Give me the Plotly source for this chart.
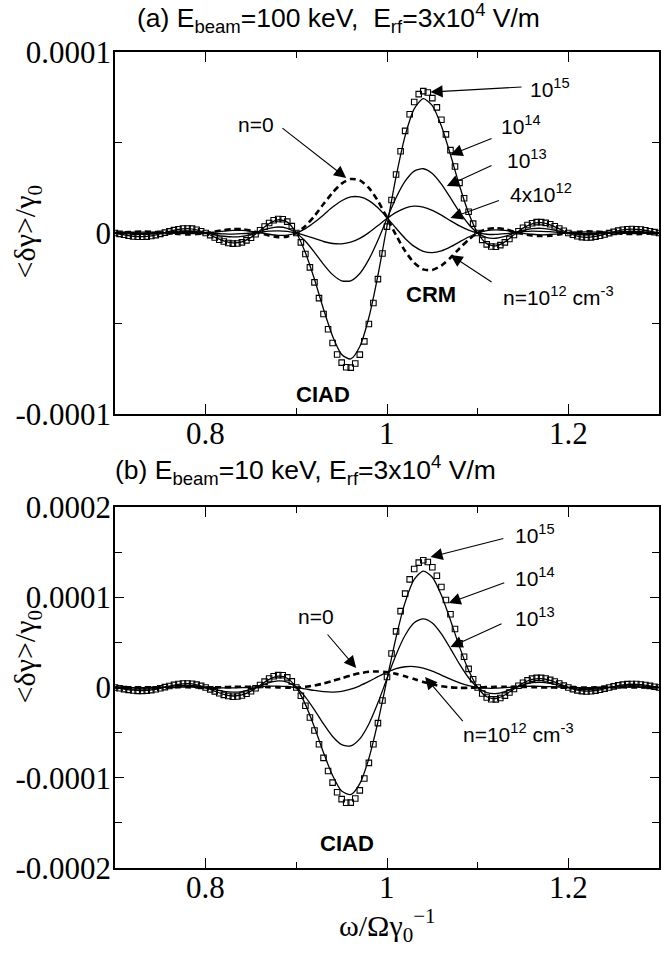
import numpy as np
import plotly.graph_objects as go

UNIT = 1e-5  # values below are read in units of 1e-5

# sampling grids (omega / Omega gamma0^-1)
x_line = np.round(np.linspace(0.70, 1.30, 61), 3)
x_sq = np.round(np.linspace(0.70, 1.30, 121), 4)
x_tick_vals = [0.8, 1.0, 1.2]
x_tick_text = ["0.8", "1", "1.2"]

# ---------------- panel (a): E_beam = 100 keV ----------------
a_n0 = [0, .03, .06, .08, .07, .03, -.01, -.06, -.08, -.06,
        0, .08, .16, .21, .21, .13, .00, -.14, -.23, -.20,
        0, .39, .94, 1.60, 2.23, 2.73, 2.98, 2.91, 2.49, 1.77,
        .85, -.12, -1.00, -1.65, -2.01, -2.04, -1.80, -1.37, -.85, -.37,
        0, .21, .27, .21, .08, -.05, -.14, -.17, -.15, -.08,
        0, .06, .09, .08, .04, -.01, -.04, -.06, -.06, -.03,
        0]
a_1e12 = [0, .02, .04, .05, .05, .03, .00, -.03, -.04, -.03,
          0, .05, .10, .14, .14, .09, .02, -.07, -.13, -.12,
          0, .24, .59, 1.00, 1.43, 1.78, 1.99, 1.99, 1.79, 1.39,
          .85, .26, -.30, -.74, -1.01, -1.09, -.99, -.77, -.49, -.22,
          0, .13, .17, .14, .07, -.02, -.07, -.10, -.08, -.05,
          0, .04, .06, .05, .03, .00, -.02, -.04, -.03, -.02,
          0]
a_4e12 = [0, -.01, -.02, -.02, -.01, .01, .02, .04, .04, .03,
          0, -.03, -.05, -.06, -.04, .00, .05, .10, .12, .09,
          0, -.14, -.30, -.47, -.58, -.60, -.51, -.30, .02, .41,
          .80, 1.14, 1.38, 1.48, 1.43, 1.25, .99, .68, .39, .16,
          0, -.07, -.08, -.04, .02, .07, .10, .09, .07, .03,
          0, -.02, -.03, -.02, .00, .02, .03, .04, .03, .01,
          0]
a_1e13 = [0, -.04, -.07, -.08, -.06, -.01, .05, .10, .11, .08,
          0, -.10, -.18, -.22, -.19, -.07, .09, .25, .33, .26,
          0, -.46, -1.07, -1.73, -2.30, -2.64, -2.64, -2.24, -1.46, -.40,
          .80, 1.95, 2.86, 3.42, 3.55, 3.29, 2.70, 1.94, 1.16, .48,
          0, -.25, -.29, -.19, -.01, .15, .24, .26, .20, .10,
          0, -.07, -.10, -.08, -.02, .04, .08, .10, .08, .04,
          0]
a_1e14 = [0, -.10, -.18, -.20, -.16, -.05, .09, .20, .24, .17,
          0, -.23, -.44, -.55, -.49, -.24, .14, .52, .73, .60,
          0, -1.09, -2.56, -4.21, -5.70, -6.71, -6.96, -6.27, -4.67, -2.34,
          .40, 3.11, 5.37, 6.86, 7.42, 7.04, 5.91, 4.32, 2.61, 1.10,
          0, -.59, -.71, -.49, -.10, .27, .51, .57, .45, .23,
          0, -.17, -.24, -.19, -.08, .06, .17, .21, .18, .10,
          0]
a_1e15 = [0, -.05, -.10, -.15, -.19, -.21, -.21, -.20, -.17, -.12,
          -.05, .02, .09, .16, .21, .25, .25, .24, .18, .10,
          0, -.12, -.25, -.37, -.47, -.55, -.59, -.58, -.52, -.41,
          -.26, -.07, .15, .36, .55, .70, .77, .76, .63, .38,
          0, -.52, -1.16, -1.90, -2.73, -3.60, -4.48, -5.32, -6.08, -6.71,
          -7.16, -7.42, -7.44, -7.21, -6.72, -5.99, -5.03, -3.87, -2.55, -1.13,
          .35, 1.82, 3.23, 4.52, 5.64, 6.56, 7.24, 7.67, 7.84, 7.76,
          7.45, 6.94, 6.26, 5.45, 4.58, 3.67, 2.77, 1.92, 1.17, .52,
          0, -.38, -.63, -.75, -.76, -.67, -.52, -.33, -.11, .10,
          .29, .44, .54, .60, .60, .56, .48, .37, .25, .12,
          0, -.10, -.18, -.23, -.25, -.24, -.20, -.15, -.08, -.01,
          .06, .13, .18, .21, .22, .21, .19, .15, .10, .05,
          0]

# ---------------- panel (b): E_beam = 10 keV ----------------
b_n0 = [0, .01, .02, .02, .03, .03, .03, .03, .02, .01,
        0, .02, .04, .07, .09, .09, .07, .04, .01, -.02,
        0, .08, .22, .44, .72, 1.03, 1.33, 1.58, 1.74, 1.78,
        1.70, 1.51, 1.24, .93, .62, .35, .14, .02, -.04, -.04,
        0, .04, .08, .09, .09, .06, .04, .01, .00, -.01,
        0, -.01, .00, .01, .02, .02, .02, .01, .00, .00,
        0]
b_1e12 = [0, -.01, -.02, -.02, .00, .02, .04, .05, .05, .03,
          0, -.03, -.05, -.05, -.02, .04, .10, .15, .16, .11,
          0, -.16, -.33, -.46, -.51, -.43, -.19, .19, .67, 1.20,
          1.70, 2.09, 2.30, 2.32, 2.14, 1.81, 1.38, .92, .51, .20,
          0, -.08, -.08, -.02, .06, .12, .14, .13, .09, .04,
          0, -.03, -.03, -.01, .01, .04, .05, .05, .04, .02,
          0]
b_1e13 = [0, -.10, -.17, -.19, -.15, -.04, .10, .21, .24, .17,
          0, -.22, -.43, -.52, -.45, -.21, .17, .53, .73, .59,
          0, -1.06, -2.48, -4.04, -5.43, -6.33, -6.47, -5.69, -4.04, -1.70,
          1.00, 3.63, 5.79, 7.17, 7.61, 7.14, 5.94, 4.31, 2.59, 1.08,
          0, -.57, -.68, -.46, -.07, .30, .53, .57, .45, .23,
          0, -.17, -.23, -.18, -.06, .07, .17, .21, .18, .10,
          0]
b_1e14 = [0, -.17, -.30, -.34, -.27, -.08, .15, .35, .42, .30,
          0, -.40, -.76, -.94, -.83, -.40, .25, .90, 1.26, 1.03,
          0, -1.87, -4.40, -7.22, -9.76, -11.48, -11.87, -10.65, -7.86, -3.82,
          .90, 5.56, 9.43, 11.97, 12.90, 12.21, 10.22, 7.46, 4.50, 1.90,
          0, -1.02, -1.22, -.83, -.17, .48, .89, .98, .78, .40,
          0, -.29, -.40, -.33, -.13, .11, .29, .36, .31, .17,
          0]
b_1e15 = [0, -.09, -.18, -.26, -.33, -.37, -.37, -.35, -.29, -.20,
          -.08, .04, .17, .29, .38, .44, .45, .41, .32, .18,
          0, -.21, -.43, -.64, -.82, -.95, -1.02, -1.00, -.89, -.70,
          -.42, -.09, .28, .65, .99, 1.24, 1.37, 1.35, 1.12, .68,
          0, -.91, -2.03, -3.33, -4.77, -6.28, -7.80, -9.25, -10.54, -11.61,
          -12.37, -12.77, -12.76, -12.30, -11.40, -10.08, -8.35, -6.29, -3.95, -1.44,
          1.17, 3.76, 6.22, 8.46, 10.40, 11.98, 13.13, 13.84, 14.10, 13.91,
          13.32, 12.38, 11.14, 9.69, 8.12, 6.49, 4.89, 3.40, 2.06, .91,
          0, -.67, -1.10, -1.31, -1.32, -1.17, -.90, -.55, -.17, .20,
          .53, .79, .98, 1.07, 1.07, .99, .85, .66, .44, .21,
          0, -.18, -.32, -.40, -.44, -.42, -.35, -.25, -.13, .00,
          .12, .23, .32, .37, .39, .38, .34, .27, .18, .09,
          0]

for arr in (a_n0, a_1e12, a_4e12, a_1e13, a_1e14, b_n0, b_1e12, b_1e13, b_1e14):
    assert len(arr) == 61
for arr in (a_1e15, b_1e15):
    assert len(arr) == 121

fig = go.Figure()


def add_line(y, xa, ya, dash=None, width=1.3):
    fig.add_trace(go.Scatter(
        x=x_line, y=np.array(y) * UNIT, mode="lines", xaxis=xa, yaxis=ya,
        line=dict(color="black", width=width, dash=dash, shape="spline", smoothing=0.7),
        hoverinfo="skip", showlegend=False))


def add_squares(y, xa, ya):
    fig.add_trace(go.Scatter(
        x=x_sq, y=np.array(y) * UNIT, mode="markers", xaxis=xa, yaxis=ya,
        marker=dict(symbol="square-open", size=5.5, color="black", line=dict(width=1.1)),
        hoverinfo="skip", showlegend=False))


for s in (a_1e12, a_4e12, a_1e13, a_1e14):
    add_line(s, "x", "y")
add_line(a_n0, "x", "y", dash="6px,4px", width=2.6)
add_squares(a_1e15, "x", "y")

for s in (b_1e12, b_1e13, b_1e14):
    add_line(s, "x2", "y2")
add_line(b_n0, "x2", "y2", dash="6px,4px", width=2.6)
add_squares(b_1e15, "x2", "y2")

SERIF = "Liberation Serif"
SANS = "Liberation Sans"

xcommon = dict(range=[0.7, 1.3], showline=True, linecolor="black", linewidth=1.6,
               mirror="ticks", ticks="inside", ticklen=10, tickwidth=1.2, tickcolor="black",
               tickvals=x_tick_vals, showticklabels=False,
               minor=dict(tickvals=[0.9, 1.1], ticks="inside", ticklen=6, tickwidth=1.2,
                          tickcolor="black"),
               showgrid=False, zeroline=False)
ycommon = dict(showline=True, linecolor="black", linewidth=1.6, mirror="ticks",
               ticks="inside", ticklen=9, tickwidth=1.2, tickcolor="black",
               tickfont=dict(family=SERIF, size=31, color="black"),
               ticklabelstandoff=-4,
               showgrid=False, zeroline=False)

fig.update_layout(
    width=661, height=953, margin=dict(l=115, r=0, t=52, b=85),
    paper_bgcolor="white", plot_bgcolor="white", showlegend=False,
    xaxis=dict(domain=[0, 1], anchor="y", **xcommon),
    yaxis=dict(domain=[0.5564, 1], anchor="x", range=[-1e-4, 1e-4],
               tickvals=[-1e-4, 0, 1e-4], ticktext=["-0.0001", "0", "0.0001"],
               minor=dict(tickvals=[-5e-5, 5e-5], ticks="inside", ticklen=7, tickwidth=1.2,
                          tickcolor="black"),
               **ycommon),
    xaxis2=dict(domain=[0, 1], anchor="y2", **xcommon),
    yaxis2=dict(domain=[0, 0.4424], anchor="x2", range=[-2e-4, 2e-4],
                tickvals=[-2e-4, -1e-4, 0, 1e-4, 2e-4],
                ticktext=["-0.0002", "-0.0001", "0", "0.0001", "0.0002"],
                minor=dict(tickvals=[-1.5e-4, -5e-5, 5e-5, 1.5e-4], ticks="inside", ticklen=7,
                           tickwidth=1.2, tickcolor="black"),
                **ycommon),
)

ann = []
# x tick labels (placed as annotations just under each panel)
for xa, ypos in (("x", 0.5319), ("x2", -0.0245)):
    for v, t in zip(x_tick_vals, x_tick_text):
        ann.append(dict(xref=xa, yref="paper", x=v, y=ypos, xanchor="center", yanchor="middle",
                        text=t, showarrow=False, font=dict(family=SERIF, size=31, color="black")))

# titles / axis titles (paper coordinates)
ann.append(dict(xref="paper", yref="paper", x=0.0366, y=1.0415, xanchor="left", yanchor="middle",
                text="(a) E<sub>beam</sub>=100 keV, &nbsp;E<sub>rf</sub>=3x10<sup>4</sup> V/m",
                showarrow=False, font=dict(family=SANS, size=26.5, color="black")))
ann.append(dict(xref="paper", yref="paper", x=-0.0037, y=0.4877, xanchor="left", yanchor="middle",
                text="(b) E<sub>beam</sub>=10 keV, E<sub>rf</sub>=3x10<sup>4</sup> V/m",
                showarrow=False, font=dict(family=SANS, size=26.5, color="black")))
for yy in (0.7794, 0.2586):
    ann.append(dict(xref="paper", yref="paper", x=-0.161, y=yy, xanchor="center", yanchor="middle",
                    text="&lt;δγ&gt;/γ<sub>0</sub>", textangle=-90, showarrow=False,
                    font=dict(family=SERIF, size=30, color="black")))
ann.append(dict(xref="paper", yref="paper", x=0.5, y=-0.07, xanchor="center", yanchor="middle",
                text="ω/Ωγ<sub>0</sub><sup>−1</sup>", showarrow=False,
                font=dict(family=SERIF, size=30, color="black")))


def label(xa, ya, x, y, text, bold=False, size=21):
    ann.append(dict(xref=xa, yref=ya, x=x, y=y * UNIT, text=("<b>%s</b>" % text) if bold else text,
                    showarrow=False, xanchor="center", yanchor="middle",
                    font=dict(family=SANS, size=size, color="black")))


def arrow(xa, ya, tail, tip):
    ann.append(dict(xref=xa, yref=ya, axref=xa, ayref=ya, x=tip[0], y=tip[1] * UNIT,
                    ax=tail[0], ay=tail[1] * UNIT, text="", showarrow=True, arrowhead=2,
                    arrowsize=2.2, arrowwidth=1.1, arrowcolor="black", standoff=0))


# panel (a) labels
label("x", "y", 1.180, 8.0, "10<sup>15</sup>")
arrow("x", "y", (1.150, 8.07), (1.048, 7.79))
label("x", "y", 1.148, 5.97, "10<sup>14</sup>")
arrow("x", "y", (1.117, 5.25), (1.070, 4.31))
label("x", "y", 1.154, 4.09, "10<sup>13</sup>")
arrow("x", "y", (1.117, 3.76), (1.066, 2.60))
label("x", "y", 1.170, 2.21, "4x10<sup>12</sup>")
arrow("x", "y", (1.125, 1.82), (1.070, 0.83))
label("x", "y", 1.189, -3.48, "n=10<sup>12</sup> cm<sup>-3</sup>")
arrow("x", "y", (1.117, -2.76), (1.070, -1.22))
label("x", "y", 0.855, 6.0, "n=0")
arrow("x", "y", (0.883, 5.86), (0.955, 3.04))
label("x", "y", 1.049, -3.4, "CRM", bold=True, size=22)
label("x", "y", 0.929, -8.9, "CIAD", bold=True, size=22)

# panel (b) labels
label("x2", "y2", 1.163, 17.0, "10<sup>15</sup>")
arrow("x2", "y2", (1.130, 16.55), (1.048, 14.45))
label("x2", "y2", 1.163, 12.2, "10<sup>14</sup>")
arrow("x2", "y2", (1.131, 11.68), (1.068, 9.36))
label("x2", "y2", 1.163, 7.8, "10<sup>13</sup>")
arrow("x2", "y2", (1.128, 7.14), (1.070, 4.49))
label("x2", "y2", 0.922, 7.9, "n=0")
arrow("x2", "y2", (0.933, 6.04), (0.966, 2.16))
label("x2", "y2", 1.145, -5.0, "n=10<sup>12</sup> cm<sup>-3</sup>")
arrow("x2", "y2", (1.085, -3.9), (1.042, 1.16))
label("x2", "y2", 0.956, -17.3, "CIAD", bold=True, size=22)

fig.update_layout(annotations=ann)
fig.write_html("out.html")
